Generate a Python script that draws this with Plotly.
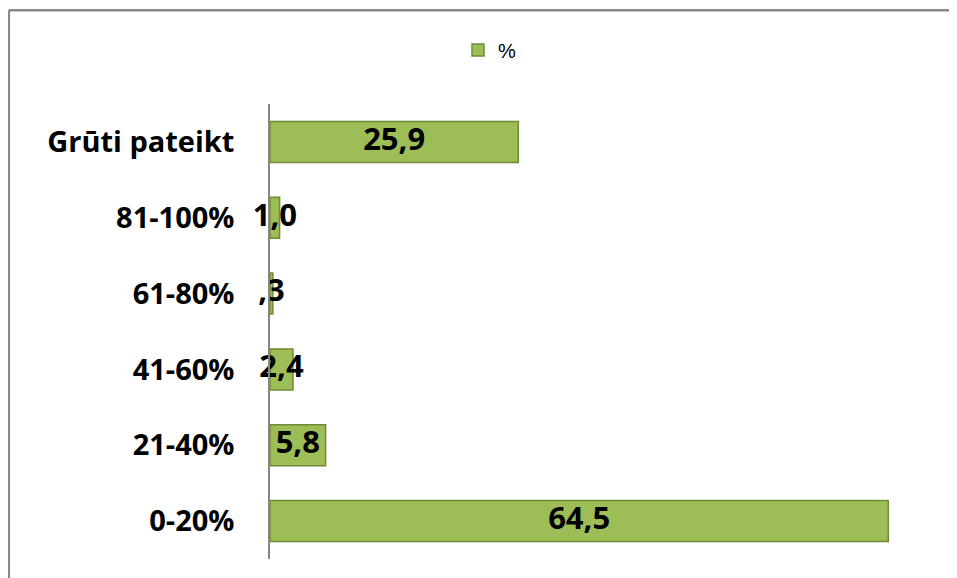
import plotly.graph_objects as go

categories = ["0-20%", "21-40%", "41-60%", "61-80%", "81-100%", "Grūti pateikt"]
values = [64.5, 5.8, 2.4, 0.3, 1.0, 25.9]
series_name = "%"


def fmt(v):
    s = f"{v:.1f}".replace(".", ",")
    if s.startswith("0,"):
        s = s[1:]
    return s


labels = [fmt(v) for v in values]

# page has an 8px body margin, so the figure is drawn 8px right/down
OFF = 8
W, H = 957 - OFF, 578 - OFF
L, R, T, B = 270 - OFF, 16, 104 - OFF, 19
pw, ph = W - L - R, H - T - B

FONT = "Open Sans"

fig = go.Figure()
fig.add_trace(go.Bar(
    x=values, y=categories, orientation="h", name=series_name,
    marker=dict(color="#9DBE57", line=dict(color="#6E8C35", width=1.5)),
    width=0.54, showlegend=True,
))
fig.add_trace(go.Scatter(
    x=[v / 2 for v in values], y=categories, mode="text", text=labels,
    textposition="middle center", cliponaxis=False,
    textfont=dict(family=FONT, size=31, color="#000000", weight="bold"),
    showlegend=False, hoverinfo="skip",
))


def px2paper(x, y):
    return (x - L) / pw, (H - B - y) / ph


x0, y0 = px2paper(0.8, 2.3)
x1, _ = px2paper(W, 2.3)
_, y1 = px2paper(0.8, H)
shapes = [
    dict(type="line", xref="paper", yref="paper", x0=x0, y0=y0, x1=x1, y1=y0,
         line=dict(color="#888888", width=2.5)),
    dict(type="line", xref="paper", yref="paper", x0=x0, y0=y0, x1=x0, y1=y1,
         line=dict(color="#888888", width=2.5)),
]

lx, ly = px2paper(450, 42)
fig.update_layout(
    width=W, height=H,
    margin=dict(l=L, r=R, t=T, b=B, autoexpand=False),
    plot_bgcolor="white", paper_bgcolor="white",
    xaxis=dict(range=[0, 70], showgrid=False, zeroline=False, showticklabels=False,
               showline=False, ticks=""),
    yaxis=dict(showgrid=False, zeroline=False, showline=True, linecolor="#868686",
               linewidth=1.5, ticks="", ticklabelstandoff=28,
               tickfont=dict(family=FONT, size=29, color="#000000", weight="bold"),
               categoryorder="array", categoryarray=categories),
    legend=dict(x=lx, y=ly, xanchor="left", yanchor="middle", orientation="h",
                font=dict(family="Liberation Sans", size=20, color="#000000"),
                bgcolor="rgba(0,0,0,0)"),
    shapes=shapes,
    bargap=0.46,
)

fig.write_html("out.html")
